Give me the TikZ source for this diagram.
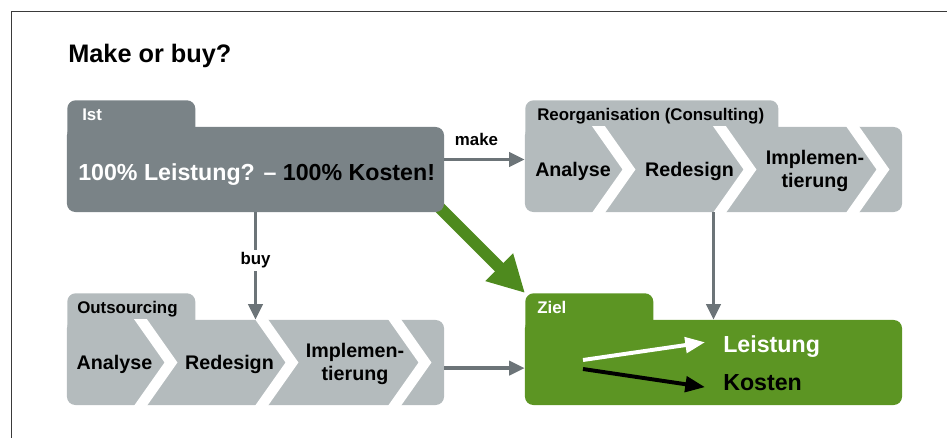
\documentclass[tikz,border=0pt]{standalone}
\usepackage{fontspec}
\setmainfont{Liberation Sans}
\usetikzlibrary{arrows.meta,backgrounds}
\definecolor{istgray}{HTML}{7A8387}
\definecolor{boxgray}{HTML}{B4BBBD}
\definecolor{zielgreen}{HTML}{5C9523}
\definecolor{greenarrow}{HTML}{4E8A1E}
\definecolor{arrowgray}{HTML}{6C7478}
\definecolor{framegray}{HTML}{3A3A3A}

\begin{document}
\begin{tikzpicture}[x=0.025cm, y=-0.025cm,
    body/.style={rounded corners=6pt, minimum width=9.425cm, minimum height=2.125cm, inner sep=0pt},
    tab/.style={rounded corners=6pt, minimum height=1cm, anchor=north west, inner sep=0pt},
    head/.style={font=\fontsize{12}{14}\selectfont\bfseries, anchor=base west, inner sep=0pt},
    phase/.style={font=\fontsize{14}{16.5}\selectfont\bfseries, align=center, inner sep=0pt},
    big/.style={font=\fontsize{16.5}{19}\selectfont\bfseries, anchor=base west, inner sep=0pt},
    flow/.style={draw=arrowgray, line width=2.5pt, -{Triangle[length=11pt,width=10pt]}},
    chev/.style={draw=white, line width=7.5pt, miter limit=4}]

  \useasboundingbox (0,0) rectangle (947,438);
  \draw[framegray, line width=1pt] (947,11.5) -- (11.5,11.5) -- (11.5,438);

  \node[font=\fontsize{18}{22}\selectfont\bfseries, anchor=base west, inner sep=0pt] (title) at (68,63) {Make or buy?};

  % boxes
  \node[tab, fill=istgray, minimum width=3.2cm] (isttab) at (67,100) {};
  \node[body, fill=istgray] (ist) at (255.5,169.5) {};
  \node[tab, fill=boxgray, minimum width=6.325cm] (reorgtab) at (525,100) {};
  \node[body, fill=boxgray] (reorg) at (713.5,169.5) {};
  \node[tab, fill=boxgray, minimum width=3.2cm] (outtab) at (67,293) {};
  \node[body, fill=boxgray] (out) at (255.5,362.5) {};
  \node[tab, fill=zielgreen, minimum width=3.2cm] (zieltab) at (525,293) {};
  \node[body, fill=zielgreen] (ziel) at (713.5,362.5) {};

  % chevrons
  \begin{scope}
    \clip (reorg.north west) rectangle (reorg.south east);
    \foreach \t in {74,195,328}
      \draw[chev] (525+\t-7,117) -- (525+\t+30,169.5) -- (525+\t-7,222);
  \end{scope}
  \begin{scope}
    \clip (out.north west) rectangle (out.south east);
    \foreach \t in {74,195,328}
      \draw[chev] (67+\t-7,310) -- (67+\t+30,362.5) -- (67+\t-7,415);
  \end{scope}

  % labels
  \node[head, text=white] (istlabel) at (82,121) {Ist};
  \node[head] (reorglabel) at (537,121) {Reorganisation (Consulting)};
  \node[head] (outlabel) at (77,314) {Outsourcing};
  \node[head, text=white] (ziellabel) at (537,314) {Ziel};

  \node[big] (isttext) at (78,181) {\textcolor{white}{100\% Leistung? –} 100\% Kosten!};

  \node[phase, anchor=base] (ranalyse) at (573,177) {Analyse};
  \node[phase, anchor=base] (rredesign) at (689.5,177) {Redesign};
  \node[phase] (rimpl) at (815,171) {Implemen-\\tierung};
  \node[phase, anchor=base] (oanalyse) at (114.5,370) {Analyse};
  \node[phase, anchor=base] (oredesign) at (229.5,370) {Redesign};
  \node[phase] (oimpl) at (355,364) {Implemen-\\tierung};

  \node[big, text=white] (leistung) at (723,353) {Leistung};
  \node[big] (kosten) at (723,391) {Kosten};
  \coordinate (wstart) at (583,360);
  \coordinate (bstart) at (583,369);

  % connectors
  \draw[flow] ([yshift=0.25cm]ist.east) -- ([yshift=0.25cm]reorg.west)
    node[pos=0.4, above=5pt, font=\fontsize{12}{14}\selectfont\bfseries] (make) {make};
  \draw[flow] (ist.south) -- (out.north)
    node[pos=0.45, fill=white, inner sep=2pt, font=\fontsize{12}{14}\selectfont\bfseries] (buy) {buy};
  \draw[flow] (reorg.south) -- (ziel.north);
  \draw[flow] ([yshift=-0.14cm]out.east) -- ([yshift=-0.14cm]ziel.west);
  \begin{scope}[on background layer]
    \draw[greenarrow, line width=8.5pt, -{Triangle[length=26pt,width=26pt]}]
      ([shift={(-0.3cm,0.3cm)}]ist.south east) -- (zieltab.north west);
  \end{scope}

  \draw[white, line width=2.8pt, -{Triangle[length=14pt,width=11pt]}]
    (wstart) -- ([xshift=-0.45cm, yshift=0.12cm]leistung.west);
  \draw[black, line width=2.8pt, -{Triangle[length=14pt,width=11pt]}]
    (bstart) -- ([xshift=-0.45cm, yshift=-0.1cm]kosten.west);
\end{tikzpicture}
\end{document}
